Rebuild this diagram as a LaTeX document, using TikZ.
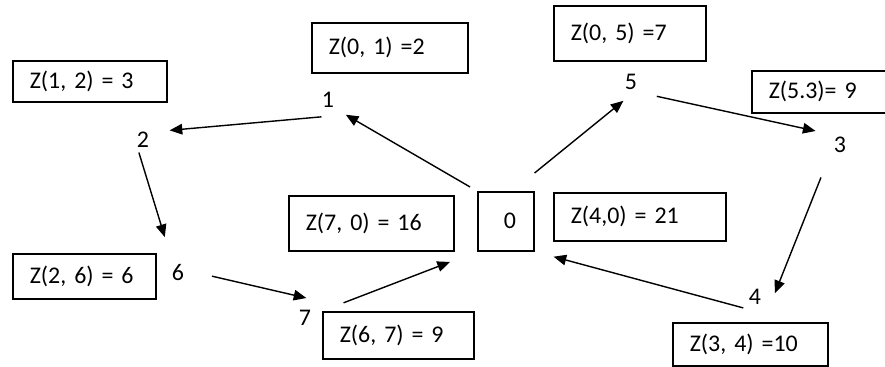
\documentclass[tikz,border=0pt]{standalone}
\usepackage{fontspec}
\setmainfont{Carlito}
\usetikzlibrary{arrows.meta}
\tikzset{
  zbox/.style={draw, line width=1.1pt, anchor=north west, inner xsep=0.425cm, inner ysep=0pt, align=left, font=\fontsize{17}{20}\selectfont},
  sommet/.style={circle, minimum size=1cm, inner sep=0pt, font=\fontsize{17}{20}\selectfont},
  fleche/.style={line width=1pt, -{Triangle[length=9pt,width=7.5pt]}}
}

\begin{document}
\begin{tikzpicture}[x=0.025cm,y=-0.025cm]
\useasboundingbox (0,0) rectangle (885,367);
% sommets
\node[sommet] (n1) at (328,100) {1};
\node[sommet] (n2) at (143,140) {2};
\node[sommet] (n5) at (631,82) {5};
\node[sommet] (n3) at (840,145) {3};
\node[sommet] (n6) at (178,273) {6};
\node[sommet] (n7) at (305,318) {7};
\node[sommet] (n4) at (755,297) {4};
\node[draw, line width=1.1pt, anchor=north west, minimum width=1.4cm, minimum height=1.475cm, font=\fontsize{17}{20}\selectfont] (n0) at (477,191) {\hspace{6pt}0};
% couts
\node[zbox, text width=3cm, minimum height=1.025cm] (b12) at (12,60) {Z(1, 2) = 3};
\node[zbox, text width=3.05cm, minimum height=1.25cm] (b01) at (311,22) {Z(0, 1) =2};
\node[zbox, text width=2.95cm, minimum height=1.375cm] (b05) at (553,5) {Z(0, 5) =7};
\node[zbox, text width=2.5cm, minimum height=1.05cm] (b53) at (751,70) {Z(5.3)= 9};
\node[zbox, text width=3.275cm, minimum height=1.375cm] (b70) at (288,195) {Z(7, 0) = 16};
\node[zbox, text width=3.45cm, minimum height=1.2cm] (b40) at (553,192) {Z(4,0) = 21};
\node[zbox, text width=2.725cm, minimum height=1.125cm] (b26) at (12,253) {Z(2, 6) = 6};
\node[zbox, text width=2.925cm, minimum height=1.175cm] (b67) at (322,311) {Z(6, 7) = 9};
\node[zbox, text width=3.025cm, minimum height=1.075cm] (b34) at (672,322) {Z(3, 4) =10};
% arcs
\foreach \a/\b/\s/\e in {n1.238/n2.26/-3pt/6pt, n2.265/n6.113/-5.7pt/12.8pt, n6.0/n7.90/10pt/-1pt, n7.22/n0.south west/15pt/20.6pt, n5.323/n3.143/7pt/6pt, n3.232/n4.11/12.6pt/0pt, n4.207/n0.south east/-4.7pt/14pt, n0.north west/n1.319/5.7pt/2pt}
  \draw[fleche, shorten <=\s, shorten >=\e] (\a) -- (\b);
\draw[fleche] ([yshift=12.8pt]n0.north east) -- (n5.248);
\end{tikzpicture}
\end{document}
